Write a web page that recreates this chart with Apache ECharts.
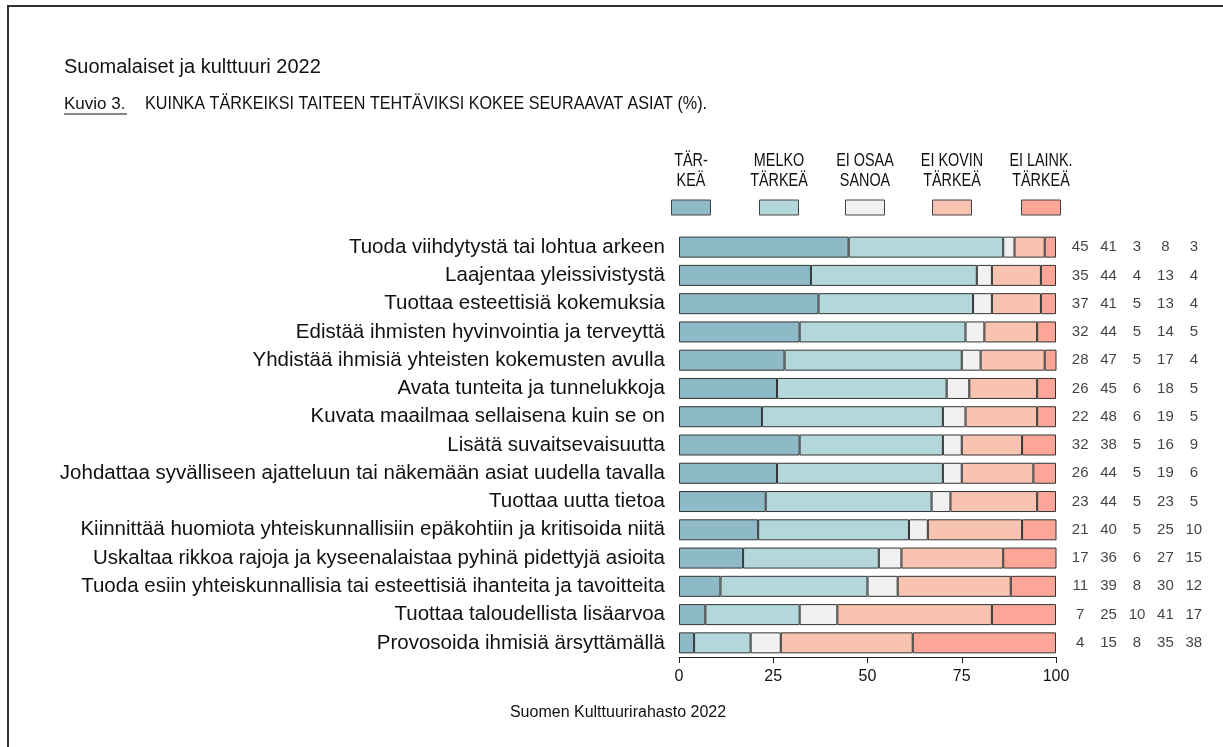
<!DOCTYPE html>
<html>
<head>
<meta charset="utf-8">
<script src="https://cdn.jsdelivr.net/npm/echarts@6/dist/echarts.min.js"></script>
<style>
  html, body { margin: 0; padding: 0; background: #fff; }
  #main { width: 1223px; height: 747px; }
</style>
</head>
<body>
<div id="main"></div>
<script>
// väittämät, ylhäältä alas
var categories = [
    'Tuoda viihdytystä tai lohtua arkeen',
    'Laajentaa yleissivistystä',
    'Tuottaa esteettisiä kokemuksia',
    'Edistää ihmisten hyvinvointia ja terveyttä',
    'Yhdistää ihmisiä yhteisten kokemusten avulla',
    'Avata tunteita ja tunnelukkoja',
    'Kuvata maailmaa sellaisena kuin se on',
    'Lisätä suvaitsevaisuutta',
    'Johdattaa syvälliseen ajatteluun tai näkemään asiat uudella tavalla',
    'Tuottaa uutta tietoa',
    'Kiinnittää huomiota yhteiskunnallisiin epäkohtiin ja kritisoida niitä',
    'Uskaltaa rikkoa rajoja ja kyseenalaistaa pyhinä pidettyjä asioita',
    'Tuoda esiin yhteiskunnallisia tai esteettisiä ihanteita ja tavoitteita',
    'Tuottaa taloudellista lisäarvoa',
    'Provosoida ihmisiä ärsyttämällä'
];
var seriesNames = ['TÄR-\nKEÄ', 'MELKO\nTÄRKEÄ', 'EI OSAA\nSANOA', 'EI KOVIN\nTÄRKEÄ', 'EI LAINK.\nTÄRKEÄ'];
var tarkea  = [45, 35, 37, 32, 28, 26, 22, 32, 26, 23, 21, 17, 11, 7, 4];
var melko   = [41, 44, 41, 44, 47, 45, 48, 38, 44, 44, 40, 36, 39, 25, 15];
var eiOsaa  = [3, 4, 5, 5, 5, 6, 6, 5, 5, 5, 5, 6, 8, 10, 8];
var eiKovin = [8, 13, 13, 14, 17, 18, 19, 16, 19, 23, 25, 27, 30, 41, 35];
var eiLaink = [3, 4, 4, 5, 4, 5, 5, 9, 6, 5, 10, 15, 12, 17, 38];
var xTicks  = [0, 25, 50, 75, 100];

var colors = ['#8dbac6', '#b3d7da', '#f1f1f1', '#f8c3b1', '#fca697'];
var font = '"Liberation Sans", Arial, sans-serif';

var dom = document.getElementById('main');
var myChart = echarts.init(dom);

var values = [tarkea, melko, eiOsaa, eiKovin, eiLaink];

// oikean reunan lukusarakkeet
var numberData = [];
values.forEach(function (arr, c) {
    arr.forEach(function (v, r) {
        numberData.push([c, r, v]);
    });
});

var barSeries = values.map(function (arr, i) {
    return {
        name: seriesNames[i],
        type: 'bar',
        stack: 'yht',
        barWidth: 21,
        xAxisIndex: 0,
        yAxisIndex: 0,
        itemStyle: { color: colors[i], borderColor: '#333', borderWidth: 1 },
        data: arr
    };
});

// legenda: teksti laatikon yläpuolella (kapea fontti -> scaleX)
var legendX = [691, 779, 865, 952, 1041];
var legendGraphics = [];
seriesNames.forEach(function (name, i) {
    legendGraphics.push({
        type: 'text', x: legendX[i], y: 171, scaleX: 0.8,
        style: { text: name, font: '18px ' + font, fill: '#111', align: 'center', verticalAlign: 'middle', lineHeight: 20 }
    });
    legendGraphics.push({
        type: 'rect', shape: { x: legendX[i] - 19.5, y: 200, width: 39, height: 15 },
        style: { fill: colors[i], stroke: '#444', lineWidth: 1 }
    });
});

var option = {
    animation: false,
    backgroundColor: '#fff',
    textStyle: { fontFamily: font },
    grid: [
        { left: 679, right: 167, top: 233, height: 424 },
        { left: 1066, width: 142, top: 233, height: 424 }
    ],
    xAxis: [
        {
            gridIndex: 0, type: 'value', min: xTicks[0], max: xTicks[xTicks.length - 1], interval: 25,
            splitLine: { show: false },
            axisLine: { show: true, lineStyle: { color: '#222', width: 1 } },
            axisTick: { show: true, length: 6, lineStyle: { color: '#222' } },
            axisLabel: { fontSize: 16, color: '#111', margin: 12 }
        },
        { gridIndex: 1, type: 'category', data: ['a', 'b', 'c', 'd', 'e'], show: false }
    ],
    yAxis: [
        {
            gridIndex: 0, type: 'category', data: categories, inverse: true,
            axisLine: { show: false }, axisTick: { show: false },
            axisLabel: { fontSize: 20.5, color: '#111', margin: 14 }
        },
        { gridIndex: 1, type: 'category', data: categories, inverse: true, show: false }
    ],
    series: barSeries.concat([{
        type: 'scatter',
        xAxisIndex: 1,
        yAxisIndex: 1,
        symbolSize: 1,
        itemStyle: { color: 'rgba(0,0,0,0)' },
        label: {
            show: true, position: 'inside', fontSize: 15, color: '#111',
            formatter: function (p) { return p.value[2]; }
        },
        data: numberData
    }]),
    graphic: [
        { type: 'polyline', shape: { points: [[8, 760], [8, 6], [1230, 6]] }, style: { stroke: '#333', lineWidth: 2, fill: null } },
        { type: 'text', x: 64, y: 67, style: { text: 'Suomalaiset ja kulttuuri 2022', font: '20px ' + font, fill: '#111', verticalAlign: 'middle' } },
        { type: 'text', x: 64, y: 104, style: { text: 'Kuvio 3.', font: '17px ' + font, fill: '#111', verticalAlign: 'middle' } },
        { type: 'line', shape: { x1: 64, y1: 114, x2: 127, y2: 114 }, style: { stroke: '#111', lineWidth: 1 } },
        { type: 'text', x: 145, y: 104, scaleX: 0.85, style: { text: 'KUINKA TÄRKEIKSI TAITEEN TEHTÄVIKSI KOKEE SEURAAVAT ASIAT (%).', font: '19px ' + font, fill: '#111', verticalAlign: 'middle' } },
        { type: 'text', x: 618, y: 713, style: { text: 'Suomen Kulttuurirahasto 2022', font: '16px ' + font, fill: '#111', align: 'center', verticalAlign: 'middle' } }
    ].concat(legendGraphics)
};

if (option && typeof option === "object") {
    myChart.setOption(option, true);
}
</script>
</body>
</html>
